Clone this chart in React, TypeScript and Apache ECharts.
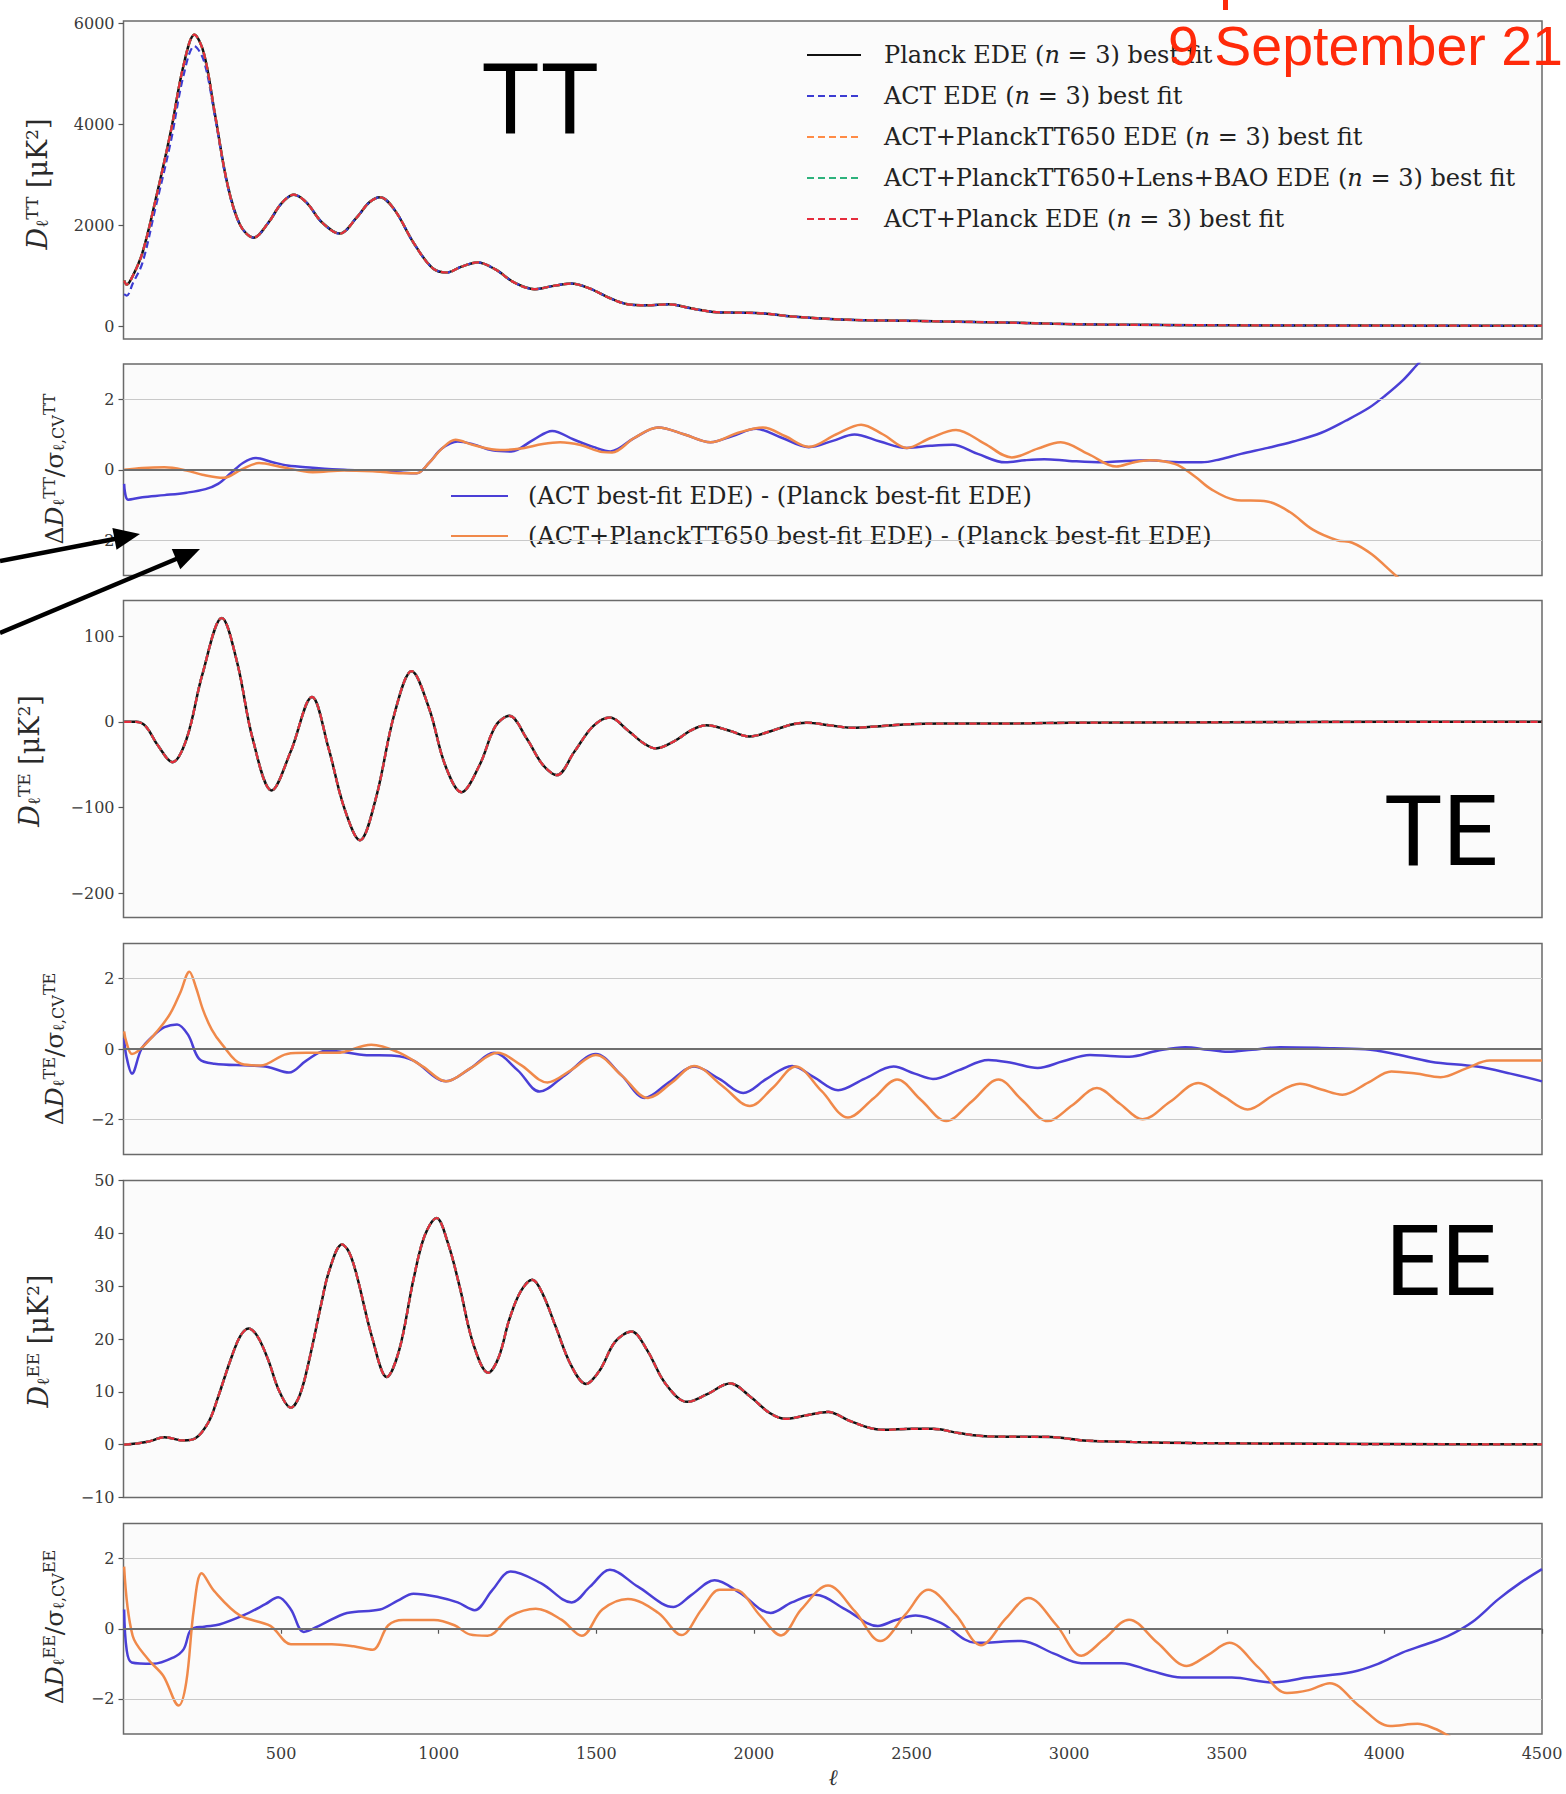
import React, { useEffect, useRef } from "react";
import * as echarts from "echarts";

// ---------------- Data ----------------
const X_TICKS = [500, 1000, 1500, 2000, 2500, 3000, 3500, 4000, 4500];
const TT_TICKS = [0, 2000, 4000, 6000];
const TE_TICKS = [-200, -100, 0, 100];
const EE_TICKS = [-10, 0, 10, 20, 30, 40, 50];
const RES_TICKS = [-2, 0, 2];

const SPEC_NAMES = [
  "Planck EDE (n = 3) best fit",
  "ACT EDE (n = 3) best fit",
  "ACT+PlanckTT650 EDE (n = 3) best fit",
  "ACT+PlanckTT650+Lens+BAO EDE (n = 3) best fit",
  "ACT+Planck EDE (n = 3) best fit",
];
const RES_NAMES = [
  "(ACT best-fit EDE) - (Planck best-fit EDE)",
  "(ACT+PlanckTT650 best-fit EDE) - (Planck best-fit EDE)",
];

// TT spectrum
const TT_L = [2, 10, 30, 60, 100, 150, 190, 225, 255, 290, 330, 370, 413, 460, 500, 540, 580, 630, 686, 740, 780, 814, 860, 920, 980, 1026, 1070, 1123, 1180, 1240, 1305, 1360, 1420, 1480, 1540, 1600, 1660, 1730, 1800, 1870, 1950, 2030, 2120, 2240, 2350, 2480, 2600, 2780, 2950, 3100, 3300, 3500, 3800, 4100, 4500];
const TT_PLANCK = [900, 820, 1000, 1450, 2450, 3850, 5150, 5770, 5400, 4200, 2800, 2000, 1750, 2050, 2420, 2600, 2450, 2050, 1830, 2150, 2450, 2550, 2300, 1650, 1150, 1060, 1170, 1260, 1120, 860, 730, 790, 840, 740, 560, 430, 410, 430, 350, 280, 265, 250, 190, 140, 115, 105, 90, 72, 45, 30, 20, 15, 10, 7, 5];
const TT_ACT = [630, 600, 850, 1250, 2300, 3650, 4950, 5540, 5250, 4150, 2780, 2000, 1750, 2050, 2420, 2600, 2450, 2050, 1830, 2150, 2450, 2550, 2300, 1650, 1150, 1060, 1170, 1260, 1120, 860, 730, 790, 840, 740, 560, 430, 410, 430, 350, 280, 265, 250, 190, 140, 115, 105, 90, 72, 45, 30, 20, 15, 10, 7, 5];

// Delta TT
const DTT_ACT_L = [2, 15, 60, 130, 200, 260, 300, 340, 380, 420, 470, 520, 600, 700, 800, 880, 930, 970, 1010, 1060, 1110, 1170, 1230, 1300, 1360, 1430, 1490, 1545, 1620, 1696, 1780, 1862, 1930, 2007, 2090, 2174, 2250, 2319, 2400, 2485, 2560, 2630, 2710, 2797, 2860, 2921, 3000, 3108, 3180, 3254, 3330, 3420, 3480, 3545, 3630, 3711, 3800, 3877, 3950, 4002, 4060, 4106, 4150];
const DTT_ACT = [-0.4, -0.85, -0.78, -0.72, -0.65, -0.55, -0.4, -0.1, 0.2, 0.33, 0.22, 0.12, 0.06, 0.0, -0.03, -0.08, -0.1, 0.2, 0.6, 0.8, 0.72, 0.55, 0.52, 0.85, 1.1, 0.85, 0.65, 0.52, 0.9, 1.2, 1.0, 0.78, 0.95, 1.16, 0.9, 0.64, 0.82, 1.0, 0.8, 0.62, 0.68, 0.71, 0.45, 0.21, 0.27, 0.3, 0.25, 0.21, 0.25, 0.27, 0.22, 0.21, 0.3, 0.45, 0.62, 0.8, 1.05, 1.39, 1.75, 2.1, 2.55, 3.0, 3.4];
const DTT_MIX_L = [2, 60, 130, 200, 250, 317, 373, 430, 500, 600, 700, 800, 883, 930, 970, 1010, 1053, 1110, 1195, 1260, 1330, 1385, 1450, 1521, 1550, 1620, 1696, 1780, 1862, 1950, 2028, 2100, 2174, 2260, 2340, 2410, 2485, 2560, 2641, 2730, 2818, 2900, 2973, 3060, 3150, 3200, 3254, 3337, 3400, 3450, 3524, 3628, 3700, 3773, 3850, 3898, 3960, 4044, 4100];
const DTT_MIX = [0.0, 0.05, 0.07, -0.02, -0.14, -0.23, 0.0, 0.19, 0.08, -0.07, -0.02, -0.05, -0.1, -0.1, 0.2, 0.6, 0.85, 0.7, 0.56, 0.6, 0.73, 0.78, 0.7, 0.5, 0.49, 0.9, 1.2, 1.0, 0.78, 1.05, 1.2, 0.95, 0.65, 1.0, 1.28, 1.0, 0.62, 0.9, 1.13, 0.75, 0.35, 0.6, 0.78, 0.45, 0.09, 0.2, 0.27, 0.16, -0.2, -0.55, -0.85, -0.9, -1.2, -1.7, -2.0, -2.07, -2.4, -3.06, -3.4];

// TE spectrum
const TE_L = [2, 40, 70, 110, 155, 200, 250, 312, 360, 410, 470, 530, 598, 650, 700, 750, 800, 860, 914, 970, 1020, 1072, 1130, 1180, 1224, 1280, 1330, 1375, 1430, 1490, 1543, 1600, 1650, 1688, 1750, 1800, 1848, 1920, 1985, 2060, 2120, 2167, 2240, 2312, 2400, 2475, 2600, 2800, 3000, 3500, 4000, 4500];
const TE_PLANCK = [0, 0, -5, -28, -47, -20, 55, 121, 70, -20, -80, -35, 29, -30, -100, -138, -90, 10, 59, 15, -50, -82, -50, -5, 7, -20, -50, -62, -35, -5, 5, -10, -25, -31, -22, -10, -4, -10, -17, -10, -3, -1, -4, -7, -5, -3, -2, -2, -1, -0.5, 0, 0];

// Delta TE
const DTE_ACT_L = [2, 9, 27, 57, 94, 130, 170, 205, 240, 288, 397, 458, 525, 580, 641, 702, 762, 859, 920, 1023, 1100, 1175, 1250, 1320, 1400, 1498, 1580, 1654, 1730, 1810, 1890, 1966, 2040, 2121, 2190, 2267, 2350, 2443, 2510, 2568, 2650, 2744, 2820, 2900, 2980, 3066, 3130, 3191, 3280, 3368, 3440, 3503, 3580, 3669, 3800, 3939, 4022, 4147, 4293, 4400, 4500];
const DTE_ACT = [0.3, -0.2, -0.7, 0.0, 0.37, 0.62, 0.7, 0.4, -0.28, -0.42, -0.47, -0.51, -0.67, -0.33, -0.05, -0.09, -0.17, -0.19, -0.33, -0.92, -0.55, -0.11, -0.6, -1.21, -0.75, -0.14, -0.75, -1.39, -0.95, -0.5, -0.85, -1.25, -0.85, -0.48, -0.8, -1.17, -0.85, -0.5, -0.7, -0.85, -0.6, -0.31, -0.4, -0.54, -0.35, -0.17, -0.2, -0.22, -0.05, 0.05, -0.02, -0.08, -0.02, 0.05, 0.03, -0.01, -0.12, -0.36, -0.5, -0.7, -0.92];
const DTE_MIX_L = [2, 9, 27, 70, 143, 180, 209, 230, 252, 280, 312, 373, 434, 519, 580, 677, 786, 871, 950, 1023, 1100, 1187, 1260, 1345, 1420, 1498, 1580, 1664, 1740, 1810, 1900, 1987, 2060, 2132, 2215, 2298, 2380, 2454, 2530, 2610, 2690, 2776, 2850, 2932, 3010, 3088, 3160, 3233, 3320, 3410, 3490, 3566, 3650, 3732, 3800, 3867, 3950, 4022, 4100, 4178, 4260, 4334, 4420, 4500];
const DTE_MIX = [0.5, 0.2, -0.14, 0.14, 0.93, 1.6, 2.2, 1.75, 1.12, 0.55, 0.14, -0.42, -0.47, -0.14, -0.11, -0.11, 0.12, -0.09, -0.5, -0.92, -0.55, -0.11, -0.45, -0.95, -0.6, -0.17, -0.75, -1.39, -0.95, -0.48, -1.05, -1.62, -1.1, -0.5, -1.2, -1.95, -1.4, -0.87, -1.45, -2.05, -1.5, -0.87, -1.45, -2.05, -1.6, -1.11, -1.55, -2.0, -1.5, -0.97, -1.35, -1.72, -1.3, -0.99, -1.15, -1.3, -0.95, -0.64, -0.7, -0.8, -0.55, -0.33, -0.33, -0.33];

// EE spectrum
const EE_L = [2, 40, 80, 130, 190, 228, 270, 300, 337, 370, 397, 425, 458, 495, 531, 560, 592, 625, 653, 693, 715, 738, 790, 835, 875, 920, 955, 993, 1030, 1066, 1110, 1157, 1190, 1224, 1260, 1297, 1330, 1370, 1420, 1467, 1510, 1560, 1612, 1660, 1720, 1789, 1850, 1924, 1990, 2050, 2101, 2170, 2236, 2300, 2360, 2412, 2500, 2568, 2650, 2734, 2850, 2942, 3046, 3200, 3400, 3800, 4200, 4500];
const EE_PLANCK = [0, 0.2, 0.6, 1.4, 0.8, 1.2, 4.3, 9, 15.6, 20.5, 22, 20.5, 16.2, 10, 7, 9.5, 16.8, 26, 33, 37.9, 36.5, 32.5, 20, 12.8, 18, 31.3, 39.5, 42.9, 38, 30, 19, 13.6, 16.5, 23.7, 29, 31.2, 28.5, 22.5, 15, 11.5, 14, 19.5, 21.4, 18, 11.5, 8.1, 9.5, 11.6, 9, 6, 4.9, 5.6, 6.2, 4.6, 3.3, 2.8, 3.0, 3.0, 2.2, 1.6, 1.5, 1.45, 0.8, 0.5, 0.3, 0.15, 0.08, 0.06];

// Delta EE
const DEE_ACT_L = [2, 10, 26, 94, 158, 191, 215, 256, 304, 385, 450, 491, 531, 572, 628, 709, 814, 870, 920, 1001, 1060, 1114, 1170, 1228, 1324, 1422, 1480, 1543, 1632, 1745, 1800, 1875, 1956, 2053, 2120, 2195, 2290, 2393, 2450, 2513, 2593, 2704, 2848, 2950, 3039, 3166, 3260, 3357, 3516, 3644, 3755, 3898, 3980, 4057, 4130, 4201, 4280, 4360, 4430, 4500];
const DEE_ACT = [0.55, -0.6, -0.96, -1.0, -0.82, -0.58, -0.02, 0.06, 0.12, 0.4, 0.7, 0.9, 0.55, -0.09, 0.12, 0.45, 0.55, 0.8, 1.0, 0.9, 0.75, 0.53, 1.1, 1.63, 1.3, 0.75, 1.2, 1.68, 1.2, 0.62, 0.95, 1.38, 1.02, 0.45, 0.75, 0.97, 0.55, 0.08, 0.25, 0.38, 0.17, -0.4, -0.35, -0.7, -0.98, -0.98, -1.2, -1.39, -1.39, -1.53, -1.39, -1.23, -1.0, -0.68, -0.45, -0.21, 0.2, 0.83, 1.3, 1.7];
const DEE_MIX_L = [2, 29, 78, 126, 175, 199, 223, 248, 288, 369, 466, 531, 600, 661, 730, 790, 840, 887, 985, 1050, 1098, 1155, 1228, 1308, 1389, 1454, 1519, 1600, 1697, 1770, 1834, 1891, 1940, 2021, 2086, 2150, 2235, 2320, 2401, 2480, 2553, 2640, 2720, 2800, 2871, 2960, 3039, 3110, 3190, 3280, 3373, 3440, 3508, 3600, 3691, 3760, 3827, 3920, 4018, 4105, 4160, 4201, 4250];
const DEE_MIX = [1.77, -0.2, -0.87, -1.34, -2.19, -1.53, 0.55, 1.58, 1.07, 0.38, 0.08, -0.44, -0.44, -0.44, -0.5, -0.6, 0.1, 0.25, 0.25, 0.1, -0.16, -0.2, 0.36, 0.57, 0.26, -0.2, 0.55, 0.85, 0.45, -0.18, 0.55, 1.11, 1.11, 0.36, -0.19, 0.55, 1.23, 0.5, -0.35, 0.4, 1.11, 0.4, -0.47, 0.3, 0.88, 0.1, -0.77, -0.3, 0.26, -0.4, -1.06, -0.75, -0.4, -1.1, -1.83, -1.75, -1.55, -2.2, -2.77, -2.71, -2.85, -3.04, -3.3];

// ---------------- Layout / style ----------------
const GRID_LEFT = 123.5;
const GRID_RIGHT = 24;
const GRID_TOPS = [21, 364, 600.5, 943.5, 1180.5, 1523.5];
const GRID_HEIGHTS = [318, 211.5, 317, 211, 317, 210.5];
const SERIF = "'DejaVu Serif', 'Liberation Serif', serif";
const SANS = "'Liberation Sans Narrow', 'Roboto', 'Liberation Sans', sans-serif";

const SPEC_STYLES = [
  { color: "#111111", type: "solid", width: 2.5 },
  { color: "#3c3cd2", type: [7, 4], width: 2.2 },
  { color: "#ff8b45", type: [7, 4], width: 2.2 },
  { color: "#2db27c", type: [7, 4], width: 2.2 },
  { color: "#e52c3c", type: [7, 4], width: 2.2 },
];
const RES_COLORS = ["#4a3fd6", "#f0894a"];

const pairs = (L: number[], V: number[]) => L.map((l, i) => [l, V[i]]);
const minusFmt = (v: number) => String(v).replace("-", "\u2212");
const plainFmt = (v: number) => String(v);

function specSeries(g: number, sets: number[][][]) {
  return SPEC_NAMES.map((name, i) => ({
    type: "line",
    name,
    xAxisIndex: g,
    yAxisIndex: g,
    data: sets[i],
    symbol: "none",
    showSymbol: false,
    smooth: 0.35,
    clip: true,
    z: 3 + i,
    itemStyle: { color: SPEC_STYLES[i].color },
    lineStyle: { color: SPEC_STYLES[i].color, width: SPEC_STYLES[i].width, type: SPEC_STYLES[i].type as any },
  }));
}

function resSeries(g: number, sets: number[][][]) {
  const guide = {
    type: "line",
    xAxisIndex: g,
    yAxisIndex: g,
    data: [],
    symbol: "none",
    z: 1,
    silent: true,
    markLine: {
      silent: true,
      symbol: ["none", "none"],
      label: { show: false },
      data: [
        { yAxis: 2, lineStyle: { color: "#c9c9c9", width: 1.2, type: "solid" } },
        { yAxis: -2, lineStyle: { color: "#c9c9c9", width: 1.2, type: "solid" } },
        { yAxis: 0, lineStyle: { color: "#6e6e6e", width: 1.8, type: "solid" } },
      ],
    },
  };
  const curves = RES_NAMES.map((name, i) => ({
    type: "line",
    name,
    xAxisIndex: g,
    yAxisIndex: g,
    data: sets[i],
    symbol: "none",
    showSymbol: false,
    smooth: 0.35,
    clip: true,
    z: 3 + i,
    itemStyle: { color: RES_COLORS[i] },
    lineStyle: { color: RES_COLORS[i], width: 2.5 },
  }));
  return [guide, ...curves];
}

const Y_TITLES = [
  { text: "{i|D}{s|ℓ}{p|TT} [μK{p|2}]", x: 37, y: 184, big: 27, small: 17 },
  { text: "Δ{i|D}{s|ℓ}{p|TT}/σ{s|ℓ,CV}{p|TT}", x: 54, y: 469, big: 25, small: 16 },
  { text: "{i|D}{s|ℓ}{p|TE} [μK{p|2}]", x: 29, y: 761, big: 27, small: 17 },
  { text: "Δ{i|D}{s|ℓ}{p|TE}/σ{s|ℓ,CV}{p|TE}", x: 54, y: 1049, big: 25, small: 16 },
  { text: "{i|D}{s|ℓ}{p|EE} [μK{p|2}]", x: 38, y: 1341, big: 27, small: 17 },
  { text: "Δ{i|D}{s|ℓ}{p|EE}/σ{s|ℓ,CV}{p|EE}", x: 54, y: 1627, big: 25, small: 16 },
];

const BIG_LABELS = [
  { text: "TT", x: 540, y: 99 },
  { text: "TE", x: 1441, y: 831 },
  { text: "EE", x: 1441, y: 1261 },
];

const ARROWS = [
  { from: [0, 561], to: [140, 534] },
  { from: [0, 633], to: [200, 549] },
];

function arrowElements() {
  const els: any[] = [];
  ARROWS.forEach((a) => {
    const dx = a.to[0] - a.from[0];
    const dy = a.to[1] - a.from[1];
    const len = Math.sqrt(dx * dx + dy * dy);
    const ux = dx / len;
    const uy = dy / len;
    const hl = 26;
    const hw = 11;
    const bx = a.to[0] - ux * hl;
    const by = a.to[1] - uy * hl;
    els.push({
      type: "line",
      z: 100,
      shape: { x1: a.from[0], y1: a.from[1], x2: bx + ux * 4, y2: by + uy * 4 },
      style: { stroke: "#000", lineWidth: 4.5 },
    });
    els.push({
      type: "polygon",
      z: 100,
      shape: {
        points: [
          [a.to[0], a.to[1]],
          [bx - uy * hw, by + ux * hw],
          [bx + uy * hw, by - ux * hw],
        ],
      },
      style: { fill: "#000" },
    });
  });
  return els;
}

function buildOption() {
  const grids = GRID_TOPS.map((top, i) => ({
    left: GRID_LEFT,
    right: GRID_RIGHT,
    top,
    height: GRID_HEIGHTS[i],
    show: true,
    borderColor: "#6a6a6a",
    borderWidth: 1.5,
    backgroundColor: "#fbfbfb",
    containLabel: false,
    outerBoundsMode: "none",
  }));

  const xAxes = GRID_TOPS.map((_, i) => ({
    type: "value",
    gridIndex: i,
    min: 0,
    max: 4500,
    interval: 500,
    axisLine: { show: false },
    splitLine: { show: false },
    axisTick: { show: i === 5, length: 5, lineStyle: { color: "#555", width: 1.2 }, customValues: X_TICKS },
    axisLabel: {
      show: i === 5,
      customValues: X_TICKS,
      formatter: plainFmt,
      margin: 11,
      fontFamily: SERIF,
      fontSize: 16,
      color: "#3a3a3a",
    },
  }));

  const tickCommon = { length: 5, lineStyle: { color: "#555", width: 1.2 } };
  const labelCommon = { margin: 9, fontFamily: SERIF, fontSize: 16, color: "#3a3a3a", formatter: minusFmt };
  const yDefs = [
    { min: -257, max: 6040, ticks: TT_TICKS },
    { min: -3, max: 3, ticks: RES_TICKS },
    { min: -228, max: 141.4, ticks: TE_TICKS },
    { min: -3, max: 3, ticks: RES_TICKS },
    { min: -10, max: 50, ticks: EE_TICKS },
    { min: -3, max: 3, ticks: RES_TICKS },
  ];
  const yAxes = yDefs.map((d, i) => ({
    type: "value",
    gridIndex: i,
    min: d.min,
    max: d.max,
    axisLine: { show: false },
    splitLine: { show: false },
    axisTick: { show: true, ...tickCommon, customValues: d.ticks },
    axisLabel: { ...labelCommon, customValues: d.ticks },
  }));

  const series: any[] = [
    ...specSeries(0, [pairs(TT_L, TT_PLANCK), pairs(TT_L, TT_ACT), pairs(TT_L, TT_PLANCK), pairs(TT_L, TT_PLANCK), pairs(TT_L, TT_PLANCK)]),
    ...resSeries(1, [pairs(DTT_ACT_L, DTT_ACT), pairs(DTT_MIX_L, DTT_MIX)]),
    ...specSeries(2, [pairs(TE_L, TE_PLANCK), pairs(TE_L, TE_PLANCK), pairs(TE_L, TE_PLANCK), pairs(TE_L, TE_PLANCK), pairs(TE_L, TE_PLANCK)]),
    ...resSeries(3, [pairs(DTE_ACT_L, DTE_ACT), pairs(DTE_MIX_L, DTE_MIX)]),
    ...specSeries(4, [pairs(EE_L, EE_PLANCK), pairs(EE_L, EE_PLANCK), pairs(EE_L, EE_PLANCK), pairs(EE_L, EE_PLANCK), pairs(EE_L, EE_PLANCK)]),
    ...resSeries(5, [pairs(DEE_ACT_L, DEE_ACT), pairs(DEE_MIX_L, DEE_MIX)]),
  ];

  const legendRich = {
    it: { fontStyle: "italic", fontFamily: SERIF, fontSize: 24, color: "#222" },
  };
  const legendFmt = (name: string) => name.replace("(n = 3)", "({it|n} = 3)");

  const graphic: any[] = [];
  Y_TITLES.forEach((t) => {
    graphic.push({
      type: "text",
      x: t.x,
      y: t.y,
      rotation: Math.PI / 2,
      z: 50,
      style: {
        text: t.text,
        fontFamily: SERIF,
        fontSize: t.big,
        fill: "#2a2a2a",
        align: "center",
        verticalAlign: "middle",
        textAlign: "center",
        textVerticalAlign: "middle",
        rich: {
          i: { fontFamily: SERIF, fontSize: t.big, fontStyle: "italic", fill: "#2a2a2a", color: "#2a2a2a" },
          s: { fontFamily: SERIF, fontSize: t.small, verticalAlign: "bottom", fill: "#2a2a2a", color: "#2a2a2a" },
          p: { fontFamily: SERIF, fontSize: t.small, verticalAlign: "top", fill: "#2a2a2a", color: "#2a2a2a" },
        },
      },
    });
  });
  BIG_LABELS.forEach((b) => {
    graphic.push({
      type: "text",
      x: b.x,
      y: b.y,
      z: 60,
      style: {
        text: b.text,
        fontFamily: SANS,
        fontSize: 98,
        fill: "#000",
        align: "center",
        verticalAlign: "middle",
        textAlign: "center",
        textVerticalAlign: "middle",
      },
    });
  });
  graphic.push({
    type: "text",
    x: 833,
    y: 1766,
    z: 60,
    style: { text: "ℓ", fontFamily: SERIF, fontStyle: "italic", fontSize: 22, fill: "#333", align: "center", verticalAlign: "top", textAlign: "center", textVerticalAlign: "top" },
  });
  graphic.push({
    type: "rect",
    z: 120,
    shape: { x: 1223, y: 0, width: 5, height: 10 },
    style: { fill: "#ff2a0a" },
  });
  graphic.push({
    type: "text",
    x: 1168,
    y: 46,
    z: 120,
    style: {
      text: "9 September 21",
      fontFamily: "'Liberation Sans', Arial, sans-serif",
      fontSize: 55.5,
      fill: "#ff2a0a",
      align: "left",
      verticalAlign: "middle",
      textAlign: "left",
      textVerticalAlign: "middle",
    },
  });
  graphic.push(...arrowElements());

  return {
    animation: false,
    backgroundColor: "#ffffff",
    grid: grids,
    xAxis: xAxes,
    yAxis: yAxes,
    legend: [
      {
        data: SPEC_NAMES,
        orient: "vertical",
        left: 806,
        top: 43,
        itemWidth: 54,
        itemHeight: 20,
        itemGap: 17,
        selectedMode: false,
        padding: 0,
        itemStyle: { opacity: 0, borderWidth: 0 },
        formatter: legendFmt,
        textStyle: { fontFamily: SERIF, fontSize: 24, lineHeight: 24, color: "#222", padding: [0, 0, 0, 18], rich: legendRich },
      },
      {
        data: RES_NAMES,
        orient: "vertical",
        left: 450,
        top: 484,
        itemWidth: 57,
        itemHeight: 20,
        itemGap: 16,
        selectedMode: false,
        padding: 0,
        itemStyle: { opacity: 0, borderWidth: 0 },
        textStyle: { fontFamily: SERIF, fontSize: 24, lineHeight: 24, color: "#222", padding: [0, 0, 0, 15] },
      },
    ],
    series,
    graphic,
  };
}

export default function App() {
  const ref = useRef<HTMLDivElement>(null);
  useEffect(() => {
    if (!ref.current) return;
    const chart = echarts.init(ref.current, null, { renderer: "svg" });
    chart.setOption(buildOption() as any);
    return () => chart.dispose();
  }, []);
  return (
    <div
      ref={ref}
      style={{ position: "absolute", left: 0, top: 0, width: 1566, height: 1794, background: "#fff" }}
    />
  );
}
